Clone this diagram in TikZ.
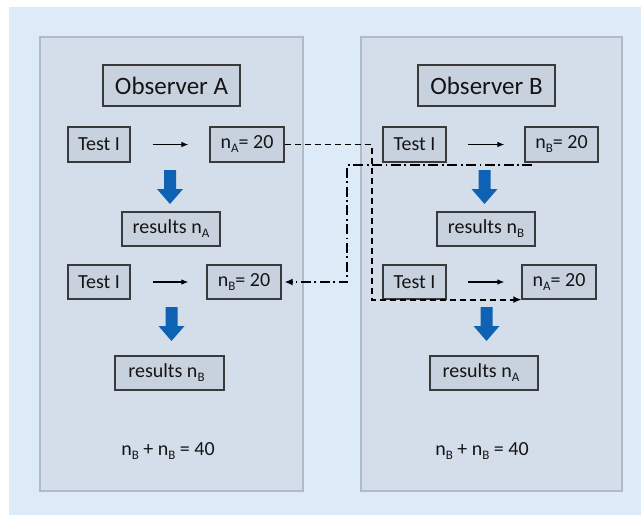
\documentclass[tikz,border=0pt]{standalone}
\usepackage{fontspec}
\setmainfont{Carlito}
\usetikzlibrary{arrows.meta}
\definecolor{bgblue}{HTML}{DDEAF7}
\definecolor{panelfill}{HTML}{D3DEEA}
\definecolor{panelline}{HTML}{B0BBC7}
\definecolor{boxfill}{HTML}{C7D2DE}
\definecolor{boxline}{HTML}{3A3A3A}
\definecolor{arrblue}{HTML}{0E62B4}
\definecolor{txt}{HTML}{141414}
\newcommand{\mysub}[1]{\raisebox{-4pt}{\fontsize{13}{13}\selectfont #1}}
\tikzset{
  panel/.style={fill=panelfill, draw=panelline, line width=1.5pt},
  box/.style={draw=boxline, fill=boxfill, line width=1.2pt, inner sep=0pt, text=txt,
              font=\fontsize{20}{24}\selectfont},
  titlebox/.style={box, font=\fontsize{25}{30}\selectfont},
  plain/.style={inner sep=0pt, text=txt, font=\fontsize{20}{24}\selectfont},
  thinarrow/.style={draw=black, line width=1.1pt, -{Latex[length=7pt,width=5.5pt]}},
  dashedlink/.style={draw=black, line width=1.8pt, dash pattern=on 6pt off 4pt, -{Latex[length=8pt,width=7pt]}},
  dashdotlink/.style={draw=black, line width=1.8pt, dash pattern=on 10pt off 3.5pt on 1.8pt off 3.5pt, -{Latex[length=8pt,width=7pt]}},
  barrow/.pic={\fill[arrblue] (-6,0) -- (6,0) -- (6,19) -- (13,19) -- (0,34) -- (-13,19) -- (-6,19) -- cycle;}
}
\begin{document}
\begin{tikzpicture}[x=1pt,y=-1pt]
\useasboundingbox (0,0) rectangle (641,515);
\fill[bgblue] (9,7) rectangle (641,515);
\draw[panel] (40,37) rectangle (303,491);
\draw[panel] (361,37) rectangle (622,491);

% Observer A
\node[titlebox, minimum width=137pt, minimum height=41pt] (obsA) at (171.5,85.5) {Observer A};
\node[box, minimum width=62pt, minimum height=35pt] (tA1) at (99,144.5) {Test I};
\node[box, minimum width=74pt, minimum height=35pt] (nAA) at (247,144.5) {n\mysub{A}= 20};
\node[box, minimum width=98pt, minimum height=34pt] (resAA) at (171,229) {results n\mysub{A}};
\node[box, minimum width=62pt, minimum height=34pt] (tA2) at (99,282) {Test I};
\node[box, minimum width=74pt, minimum height=34pt] (nBA) at (244,282) {n\mysub{B}= 20};
\node[box, minimum width=109pt, minimum height=34pt] (resBA) at (169.5,373) {\hspace*{-6pt}results n\mysub{B}};
\node[plain] (sumA) at (168,451) {n\mysub{B} + n\mysub{B} = 40};
\pic at (170,170) {barrow};
\pic at (171.5,307) {barrow};
\draw[thinarrow, shorten <=22pt, shorten >=21pt] (tA1.east) -- (nAA.west);
\draw[thinarrow, shorten <=22pt, shorten >=18pt] (tA2.east) -- (nBA.west);

% Observer B
\node[titlebox, minimum width=137pt, minimum height=41pt] (obsB) at (486.5,85.5) {Observer B};
\node[box, minimum width=63pt, minimum height=35pt] (tB1) at (414.5,144.5) {Test I};
\node[box, minimum width=73pt, minimum height=35pt] (nBB) at (561.5,144.5) {n\mysub{B}= 20};
\node[box, minimum width=98pt, minimum height=34pt] (resBB) at (486,229) {results n\mysub{B}};
\node[box, minimum width=63pt, minimum height=34pt] (tB2) at (414.5,282) {Test I};
\node[box, minimum width=74pt, minimum height=34pt] (nAB) at (559,282) {n\mysub{A}= 20};
\node[box, minimum width=108pt, minimum height=34pt] (resAB) at (484,373) {\hspace*{-6pt}results n\mysub{A}};
\node[plain] (sumB) at (482,451) {n\mysub{B} + n\mysub{B} = 40};
\pic at (484.5,170) {barrow};
\pic at (486.5,307) {barrow};
\draw[thinarrow, shorten <=21pt, shorten >=20pt] (tB1.east) -- (nBB.west);
\draw[thinarrow, shorten <=21pt, shorten >=17pt] (tB2.east) -- (nAB.west);

% cross links
\coordinate (ddstart) at ([xshift=8pt,yshift=-2.5pt]nBB.south west);
\draw[dashedlink] (nAA.east) -- ++(87,0) |- (nAB.south west);
\draw[dashdotlink, shorten >=3pt] (ddstart) -| (347,282) -- (nBA.east);
\end{tikzpicture}
\end{document}
